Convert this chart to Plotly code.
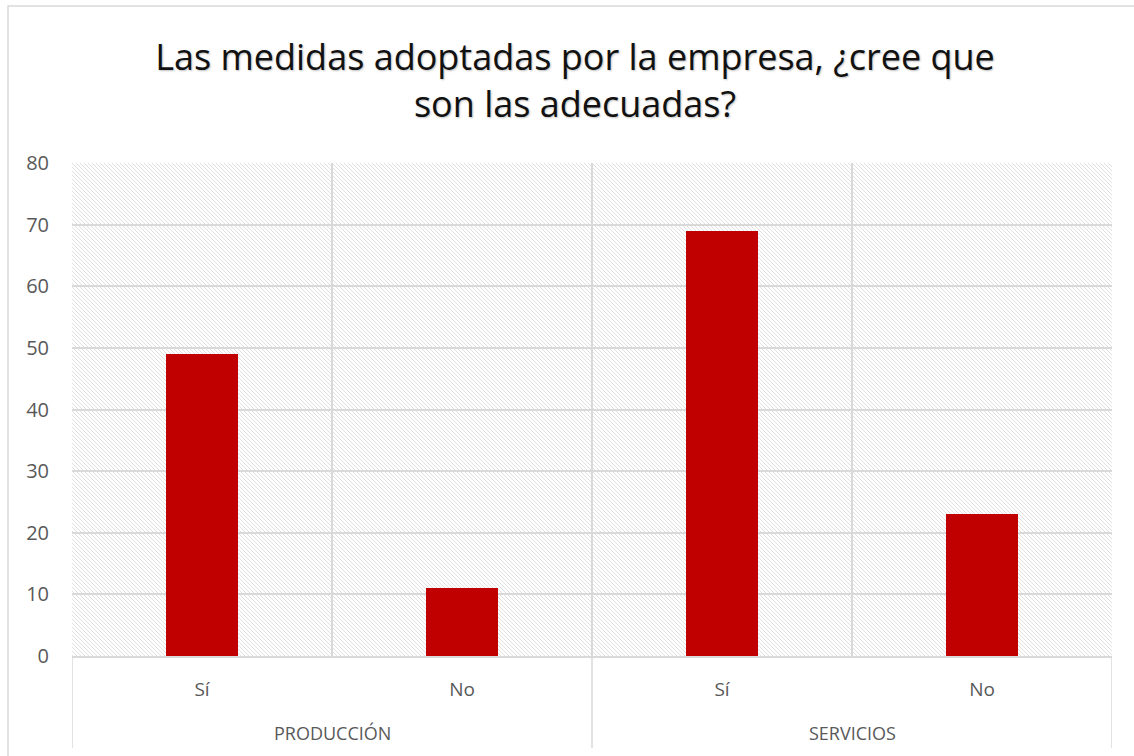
import base64
import plotly.graph_objects as go

# Survey answers per sector
groups = ["PRODUCCIÓN", "PRODUCCIÓN", "SERVICIOS", "SERVICIOS"]
answers = ["Sí", "No", "Sí", "No"]
counts = [49, 11, 69, 23]
y_ticks = [0, 10, 20, 30, 40, 50, 60, 70, 80]

title_text = "Las medidas adoptadas por la empresa, ¿cree que<br>son las adecuadas?"

W, H = 1134, 756
M_L, M_R, M_T, M_B = 72, 22, 163, 100
PW, PH = W - M_L - M_R, H - M_T - M_B

FONT = "Open Sans"
GRID = "#d9d9d9"
TXT = "#595959"
BAR = "#c00000"

positions = list(range(len(counts)))
boundaries = [p - 0.5 for p in positions] + [positions[-1] + 0.5]

# diagonal hatch texture for the plot background
hatch_svg = f"""<svg xmlns='http://www.w3.org/2000/svg' width='{PW}' height='{PH}' viewBox='0 0 {PW} {PH}'>
<defs><pattern id='h' width='4' height='4' patternUnits='userSpaceOnUse'>
<path d='M-1,3 L1,5 M-1,-1 L5,5 M3,-1 L5,1' stroke='#dcdcdc' stroke-width='0.9'/>
</pattern></defs>
<rect width='{PW}' height='{PH}' fill='white'/>
<rect width='{PW}' height='{PH}' fill='url(#h)'/>
</svg>"""
hatch_uri = "data:image/svg+xml;base64," + base64.b64encode(hatch_svg.encode()).decode()

fig = go.Figure()
fig.add_trace(go.Bar(
    x=positions,
    y=counts,
    width=1 / 3.6,
    marker=dict(color=BAR, line=dict(width=0)),
    hoverinfo="skip",
    showlegend=False,
))

def px_to_paper_y(py):
    return (H - M_B - py) / PH

def px_to_paper_x(px):
    return (px - M_L) / PW

shapes = []
# group dividers extending below the category axis
group_edges = [boundaries[0]]
for i in range(1, len(groups)):
    if groups[i] != groups[i - 1]:
        group_edges.append(positions[i] - 0.5)
group_edges.append(boundaries[-1])
for gx in group_edges:
    shapes.append(dict(type="line", xref="x", yref="paper", x0=gx, x1=gx,
                       y0=0, y1=px_to_paper_y(748),
                       line=dict(color=GRID, width=1.5)))
# chart-area frame
shapes.append(dict(type="rect", xref="paper", yref="paper",
                   x0=px_to_paper_x(8), x1=px_to_paper_x(W + 10),
                   y0=px_to_paper_y(H + 10), y1=px_to_paper_y(6),
                   line=dict(color=GRID, width=1.5), fillcolor="rgba(0,0,0,0)",
                   layer="below"))

annotations = []
seen = []
for g in groups:
    if g not in seen:
        seen.append(g)
for g in seen:
    idx = [p for p, gg in zip(positions, groups) if gg == g]
    annotations.append(dict(
        x=sum(idx) / len(idx), xref="x",
        y=px_to_paper_y(733), yref="paper",
        text=g, showarrow=False, xanchor="center", yanchor="middle",
        font=dict(family=FONT, size=18, color=TXT),
    ))

fig.update_layout(
    width=W, height=H,
    margin=dict(l=M_L, r=M_R, t=M_T, b=M_B),
    paper_bgcolor="white",
    plot_bgcolor="white",
    title=dict(
        text=title_text,
        x=575 / W, xanchor="center", xref="container",
        y=1 - 70 / H, yanchor="middle", yref="container",
        font=dict(family=FONT, size=36, color="#111111",
                  shadow="1px 1px 2px rgba(0,0,0,0.25)"),
    ),
    bargap=0,
    xaxis=dict(
        range=[boundaries[0], boundaries[-1]],
        tickmode="array", tickvals=positions, ticktext=answers,
        showgrid=False, zeroline=False,
        showline=True, linecolor=GRID, linewidth=1.5,
        ticks="", ticklabelstandoff=15,
        tickfont=dict(family=FONT, size=19, color=TXT),
        minor=dict(tickmode="array", tickvals=boundaries, showgrid=True,
                   gridcolor=GRID, gridwidth=1.5, ticks=""),
        fixedrange=True,
    ),
    yaxis=dict(
        range=[0, 80], tickmode="array", tickvals=y_ticks,
        showgrid=True, gridcolor=GRID, gridwidth=1.5,
        zeroline=False, showline=False, ticks="",
        ticklabelstandoff=22,
        tickfont=dict(family=FONT, size=20, color=TXT),
        fixedrange=True,
    ),
    images=[dict(source=hatch_uri, xref="paper", yref="paper",
                 x=0, y=1, sizex=1, sizey=1, xanchor="left", yanchor="top",
                 sizing="stretch", layer="below")],
    shapes=shapes,
    annotations=annotations,
)

fig.write_html("out.html")
